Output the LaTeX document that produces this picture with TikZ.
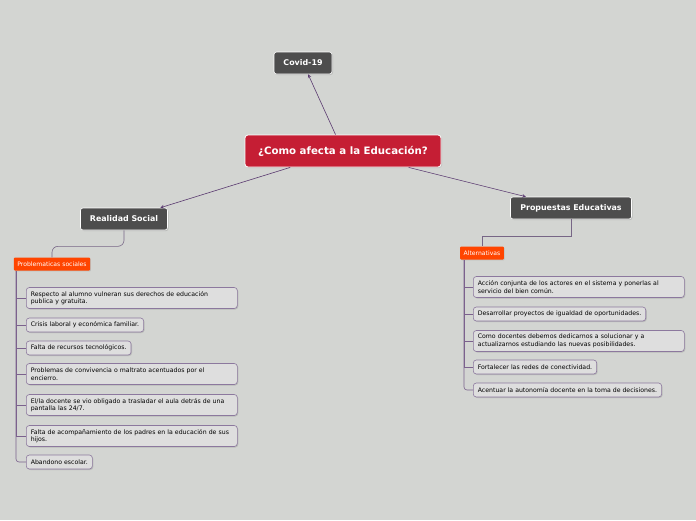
\documentclass[tikz,border=0pt]{standalone}
\usepackage{fontspec}
\setmainfont{DejaVu Sans}
\usetikzlibrary{shadows}
\definecolor{bgray}{RGB}{211,213,210}
\definecolor{hubgray}{RGB}{77,77,77}
\definecolor{rootred}{RGB}{197,30,52}
\definecolor{tagorange}{RGB}{255,69,0}
\definecolor{linkpurple}{RGB}{90,58,112}
\definecolor{leafborder}{RGB}{140,120,158}
\definecolor{leaffill}{RGB}{222,222,222}

\begin{document}
\begin{tikzpicture}[x=1pt, y=-1pt,
  root/.style={draw=white, line width=0.8pt, rounded corners=3pt, fill=rootred,
               text=white, font=\fontsize{10.2}{12}\selectfont\bfseries,
               minimum width=196pt, minimum height=32pt,
               drop shadow={opacity=0.25, shadow xshift=1pt, shadow yshift=-1pt}},
  hub/.style={draw=white, line width=0.6pt, rounded corners=2.5pt, fill=hubgray,
              text=white, font=\fontsize{7.9}{9}\selectfont\bfseries,
              minimum height=22pt,
              drop shadow={opacity=0.3, shadow xshift=1pt, shadow yshift=-1pt}},
  tag/.style={fill=tagorange, rounded corners=1pt, text=white,
              font=\fontsize{6.1}{7}\selectfont, inner xsep=3.5pt,
              minimum height=13pt,
              drop shadow={opacity=0.25, shadow xshift=0.8pt, shadow yshift=-0.8pt}},
  leaf/.style={draw=leafborder, line width=0.6pt, rounded corners=3pt, fill=leaffill,
               font=\fontsize{6.2}{7.6}\selectfont, align=left, anchor=west,
               inner xsep=4.5pt, minimum height=14pt,
               drop shadow={opacity=0.3, shadow xshift=1pt, shadow yshift=-1pt}},
  wideleaf/.style={leaf, text width=202pt, minimum height=21pt},
  arrow/.style={-stealth, line width=0.6pt, color=linkpurple},
  link/.style={line width=0.6pt, color=leafborder!85!black},
  branch/.style={line width=0.6pt, color=linkpurple!80}
]
  \useasboundingbox[fill=bgray] (0,0) rectangle (696,520);

  % centre and main topics
  \node[root] (edu) at (343,151) {¿Como afecta a la Educación?};
  \node[hub, minimum width=58pt]  (covid) at (303,63)  {Covid-19};
  \node[hub, minimum width=87pt]  (real)  at (124,219) {Realidad Social};
  \node[hub, minimum width=121pt] (prop)  at (571,208) {Propuestas Educativas};

  \draw[arrow] (edu) -- (covid);
  \draw[arrow] (edu) -- (real);
  \draw[arrow] (edu) -- (prop);

  % sub-topics
  \node[tag] (probs) at (52,264)  {Problematicas sociales};
  \node[tag] (alts)  at (482,253) {Alternativas};

  \draw[link, rounded corners=6pt] (real.south) -- ++(0,16) -| (probs.north);
  \draw[link] (prop.south) -- ++(0,17) -| (alts.north);

  % problematicas sociales
  \node[wideleaf] (p1) at (26,298) {Respecto al alumno vulneran sus derechos de educación\\publica y gratuita.};
  \node[leaf]     (p2) at (26,325) {Crisis laboral y económica familiar.};
  \node[leaf]     (p3) at (26,348) {Falta de recursos tecnológicos.};
  \node[wideleaf] (p4) at (26,374) {Problemas de convivencia o maltrato acentuados por el\\encierro.};
  \node[wideleaf] (p5) at (26,405) {El/la docente se vio obligado a trasladar el aula detrás de una\\pantalla las 24/7.};
  \node[wideleaf] (p6) at (26,436) {Falta de acompañamiento de los padres en la educación de sus\\hijos.};
  \node[leaf]     (p7) at (26,462) {Abandono escolar.};

  \coordinate (probsroot) at (16,271);
  \foreach \n in {p1,p2,p3,p4,p5,p6}
    \draw[branch] (probsroot) |- (\n.west);
  \draw[branch, rounded corners=3pt] (probsroot) |- (p7.west);

  % alternativas
  \node[wideleaf] (a1) at (473,287) {Acción conjunta de los actores en el sistema y ponerlas al\\servicio del bien común.};
  \node[leaf]     (a2) at (473,314) {Desarrollar proyectos de igualdad de oportunidades.};
  \node[wideleaf] (a3) at (473,341) {Como docentes debemos dedicarnos a solucionar y a\\actualizarnos estudiando las nuevas posibilidades.};
  \node[leaf]     (a4) at (473,367) {Fortalecer las redes de conectividad.};
  \node[leaf]     (a5) at (473,390) {Acentuar la autonomía docente en la toma de decisiones.};

  \coordinate (altsroot) at (464,260);
  \foreach \n in {a1,a2,a3,a4}
    \draw[branch] (altsroot) |- (\n.west);
  \draw[branch, rounded corners=3pt] (altsroot) |- (a5.west);
\end{tikzpicture}
\end{document}
